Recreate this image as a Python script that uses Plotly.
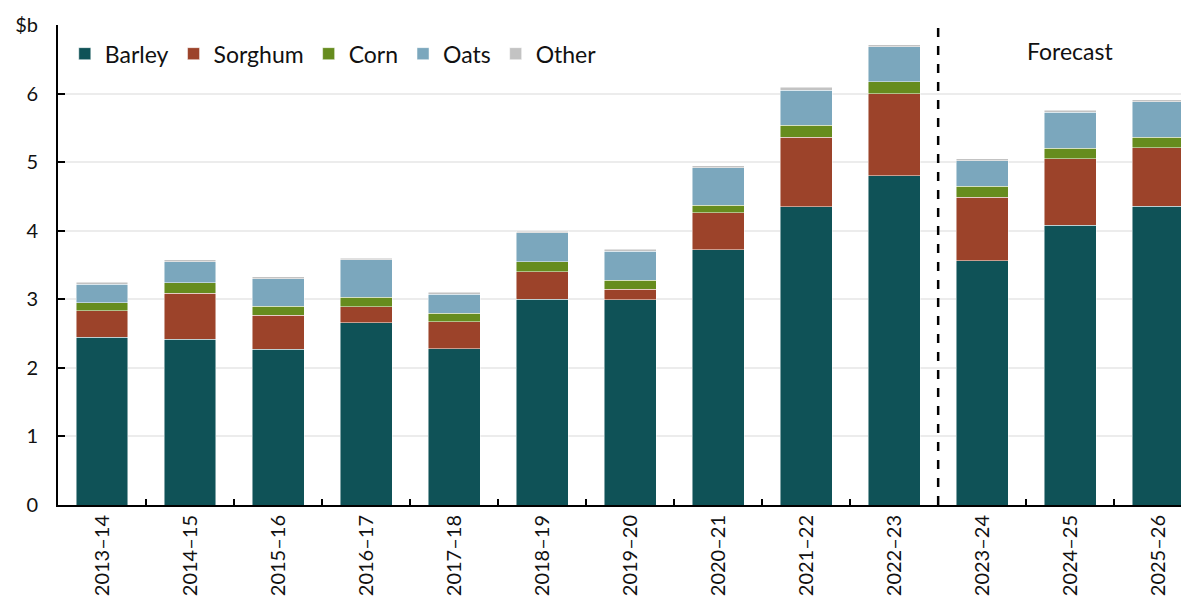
import plotly.graph_objects as go

years = ["2013–14", "2014–15", "2015–16", "2016–17", "2017–18", "2018–19", "2019–20",
         "2020–21", "2021–22", "2022–23", "2023–24", "2024–25", "2025–26"]
barley = [2.45, 2.42, 2.27, 2.66, 2.28, 3.00, 2.99, 3.72, 4.35, 4.80, 3.56, 4.08, 4.36]
sorghum = [0.38, 0.67, 0.50, 0.23, 0.39, 0.40, 0.16, 0.54, 1.01, 1.20, 0.93, 0.97, 0.85]
corn = [0.12, 0.15, 0.13, 0.14, 0.13, 0.15, 0.13, 0.11, 0.18, 0.17, 0.16, 0.15, 0.15]
oats = [0.27, 0.31, 0.40, 0.55, 0.27, 0.42, 0.42, 0.55, 0.51, 0.51, 0.37, 0.53, 0.52]
other = [0.03, 0.03, 0.03, 0.02, 0.03, 0.02, 0.03, 0.03, 0.04, 0.03, 0.03, 0.03, 0.03]

y_ticks = [0, 1, 2, 3, 4, 5, 6, 7]
y_ticktext = ["0", "1", "2", "3", "4", "5", "6", "$b"]

series = [
    ("Barley", barley, "#0f5257"),
    ("Sorghum", sorghum, "#9c432a"),
    ("Corn", corn, "#668c1e"),
    ("Oats", oats, "#7ba7bd"),
    ("Other", other, "#c3c3c3"),
]

FONT = "Lato"

fig = go.Figure()
for name, vals, col in series:
    fig.add_trace(go.Bar(
        name=name, x=years, y=vals,
        marker=dict(color=col, line=dict(color="rgba(255,255,255,0.6)", width=0.8)),
        width=0.59,
    ))

fig.add_shape(type="line", xref="x", yref="y", x0=9.5, x1=9.5, y0=0, y1=7,
              line=dict(color="black", width=2.5, dash="dash"))

fig.add_annotation(x=11.0, y=6.62, xref="x", yref="y", text="Forecast",
                   showarrow=False, font=dict(family=FONT, size=23, color="#111111"))

fig.update_layout(
    width=1189, height=600,
    barmode="stack",
    plot_bgcolor="white", paper_bgcolor="white",
    margin=dict(l=50, r=8, t=17, b=103, autoexpand=False),
    font=dict(family=FONT, size=20, color="#111111"),
    legend=dict(orientation="h", x=0.006, y=0.985, xanchor="left", yanchor="top",
                font=dict(family=FONT, size=23, color="#111111"), bgcolor="rgba(0,0,0,0)",
                traceorder="normal", itemwidth=30),
    xaxis=dict(
        range=[-0.5, 12.35], type="category", automargin=False,
        tickangle=-90, tickson="boundaries", ticks="inside", ticklen=6,
        tickcolor="black", tickwidth=1.5,
        showline=True, linecolor="black", linewidth=2,
        showgrid=False, tickfont=dict(family=FONT, size=20, color="#111111"),
    ),
    yaxis=dict(
        range=[0, 7], tickvals=y_ticks, ticktext=y_ticktext, automargin=False,
        ticks="inside", ticklen=7, tickcolor="black", tickwidth=1.5,
        showline=True, linecolor="black", linewidth=2,
        showgrid=True, gridcolor="#ececec", gridwidth=1.5,
        zeroline=False, ticklabelstandoff=14,
        tickfont=dict(family=FONT, size=20, color="#111111"),
    ),
)

fig.write_html("out.html")
